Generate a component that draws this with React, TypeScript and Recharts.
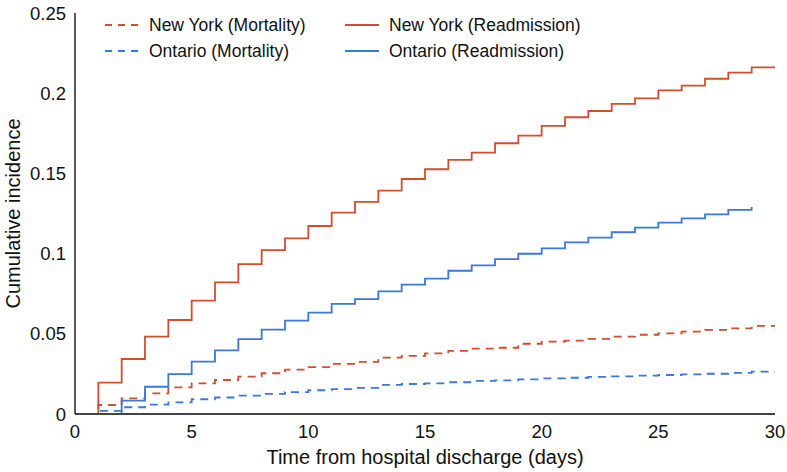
import React from 'react';
import { LineChart, Line, XAxis, YAxis, Legend, Label } from 'recharts';

// days since discharge
const days = [0, 1, 2, 3, 4, 5, 6, 7, 8, 9, 10, 11, 12, 13, 14, 15, 16, 17, 18, 19, 20, 21, 22, 23, 24, 25, 26, 27, 28, 29, 30];

const nyMortality = [0, 0.0056, 0.0098, 0.0129, 0.0166, 0.0191, 0.0212, 0.0233, 0.0254, 0.0277, 0.0292, 0.0312, 0.0325, 0.0351, 0.0363, 0.0378, 0.0393, 0.0407, 0.0413, 0.0438, 0.0451, 0.0457, 0.0468, 0.0482, 0.0494, 0.0503, 0.0513, 0.0524, 0.0534, 0.0549, 0.0549];
const onMortality = [0, 0.002, 0.0042, 0.0058, 0.0072, 0.0092, 0.0103, 0.0114, 0.0125, 0.0137, 0.0148, 0.0155, 0.0163, 0.0181, 0.0187, 0.0191, 0.0198, 0.0206, 0.021, 0.0216, 0.0222, 0.0226, 0.0231, 0.0235, 0.0239, 0.0243, 0.0247, 0.0251, 0.0256, 0.0264, 0.0264];
const nyReadmission = [0, 0.0195, 0.0343, 0.0482, 0.0586, 0.0707, 0.0821, 0.0935, 0.1022, 0.1095, 0.1172, 0.1255, 0.1322, 0.1392, 0.1465, 0.1526, 0.1584, 0.163, 0.1688, 0.1735, 0.1796, 0.185, 0.1889, 0.1933, 0.1968, 0.2018, 0.2047, 0.209, 0.2128, 0.2161, 0.2161];
const onReadmission = [0, 0, 0.0083, 0.017, 0.0248, 0.0326, 0.0397, 0.0467, 0.0526, 0.0582, 0.0632, 0.0686, 0.0716, 0.0765, 0.0806, 0.0844, 0.0893, 0.0927, 0.0966, 0.0999, 0.1033, 0.107, 0.1099, 0.1133, 0.1162, 0.1193, 0.122, 0.1245, 0.1272, 0.129, null];

const xTicks = [0, 5, 10, 15, 20, 25, 30];
const yTicks = [0, 0.05, 0.1, 0.15, 0.2, 0.25];

const RED = '#D04E2D';
const BLUE = '#3B78D8';
const FONT = '"Liberation Sans", Arial, Helvetica, sans-serif';

const data = days.map((d, i) => ({
  day: d,
  nyMort: nyMortality[i],
  onMort: onMortality[i],
  nyRead: nyReadmission[i],
  onRead: onReadmission[i],
}));

const legendItems = [
  { label: 'New York (Mortality)', color: RED, dashed: true },
  { label: 'New York (Readmission)', color: RED, dashed: false },
  { label: 'Ontario (Mortality)', color: BLUE, dashed: true },
  { label: 'Ontario (Readmission)', color: BLUE, dashed: false },
];

const renderLegend = () => (
  <div style={{ display: 'grid', gridTemplateColumns: '240px 260px', fontFamily: FONT, fontSize: 17.5, color: '#111' }}>
    {legendItems.map((item) => (
      <div key={item.label} style={{ display: 'flex', alignItems: 'center', height: 26 }}>
        <svg width={34} height={10}>
          <line x1={0} y1={5} x2={34} y2={5} stroke={item.color} strokeWidth={2}
            strokeDasharray={item.dashed ? '7 6' : undefined} />
        </svg>
        <span style={{ marginLeft: 10, whiteSpace: 'nowrap' }}>{item.label}</span>
      </div>
    ))}
  </div>
);

export default function App() {
  const tickStyle = { fontSize: 18.5, fill: '#111', fontFamily: FONT };
  return (
    <div style={{ position: 'absolute', left: 0, top: 0, width: 787, height: 472, background: '#fff' }}>
      <LineChart width={787} height={472} data={data} margin={{ top: 13, right: 12, bottom: 0, left: 0 }}>
        <XAxis
          dataKey="day"
          type="number"
          domain={[0, 30]}
          ticks={xTicks}
          tickLine={false}
          tickMargin={5}
          height={58}
          axisLine={{ stroke: '#444', strokeWidth: 2 }}
          tick={tickStyle}
        >
          <Label value="Time from hospital discharge (days)" position="insideBottom" offset={8}
            style={{ fontSize: 20, fill: '#111', fontFamily: FONT }} />
        </XAxis>
        <YAxis
          type="number"
          domain={[0, 0.25]}
          ticks={yTicks}
          width={75}
          tickLine={false}
          tickMargin={3}
          axisLine={{ stroke: '#222', strokeWidth: 1.5 }}
          tick={tickStyle}
        >
          <Label value="Cumulative incidence" angle={-90} position="insideLeft" offset={13}
            style={{ fontSize: 20, fill: '#111', fontFamily: FONT, textAnchor: 'middle' }} />
        </YAxis>
        <Legend
          layout="horizontal"
          verticalAlign="middle"
          align="center"
          content={renderLegend}
          wrapperStyle={{ top: 12, left: 105, width: 520 }}
        />
        <Line type="stepAfter" dataKey="nyMort" stroke={RED} strokeWidth={1.8} strokeDasharray="8 6" dot={false} isAnimationActive={false} />
        <Line type="stepAfter" dataKey="onMort" stroke={BLUE} strokeWidth={1.8} strokeDasharray="8 6" dot={false} isAnimationActive={false} />
        <Line type="stepAfter" dataKey="nyRead" stroke={RED} strokeWidth={1.8} dot={false} isAnimationActive={false} />
        <Line type="stepAfter" dataKey="onRead" stroke={BLUE} strokeWidth={1.8} dot={false} isAnimationActive={false} />
      </LineChart>
    </div>
  );
}
